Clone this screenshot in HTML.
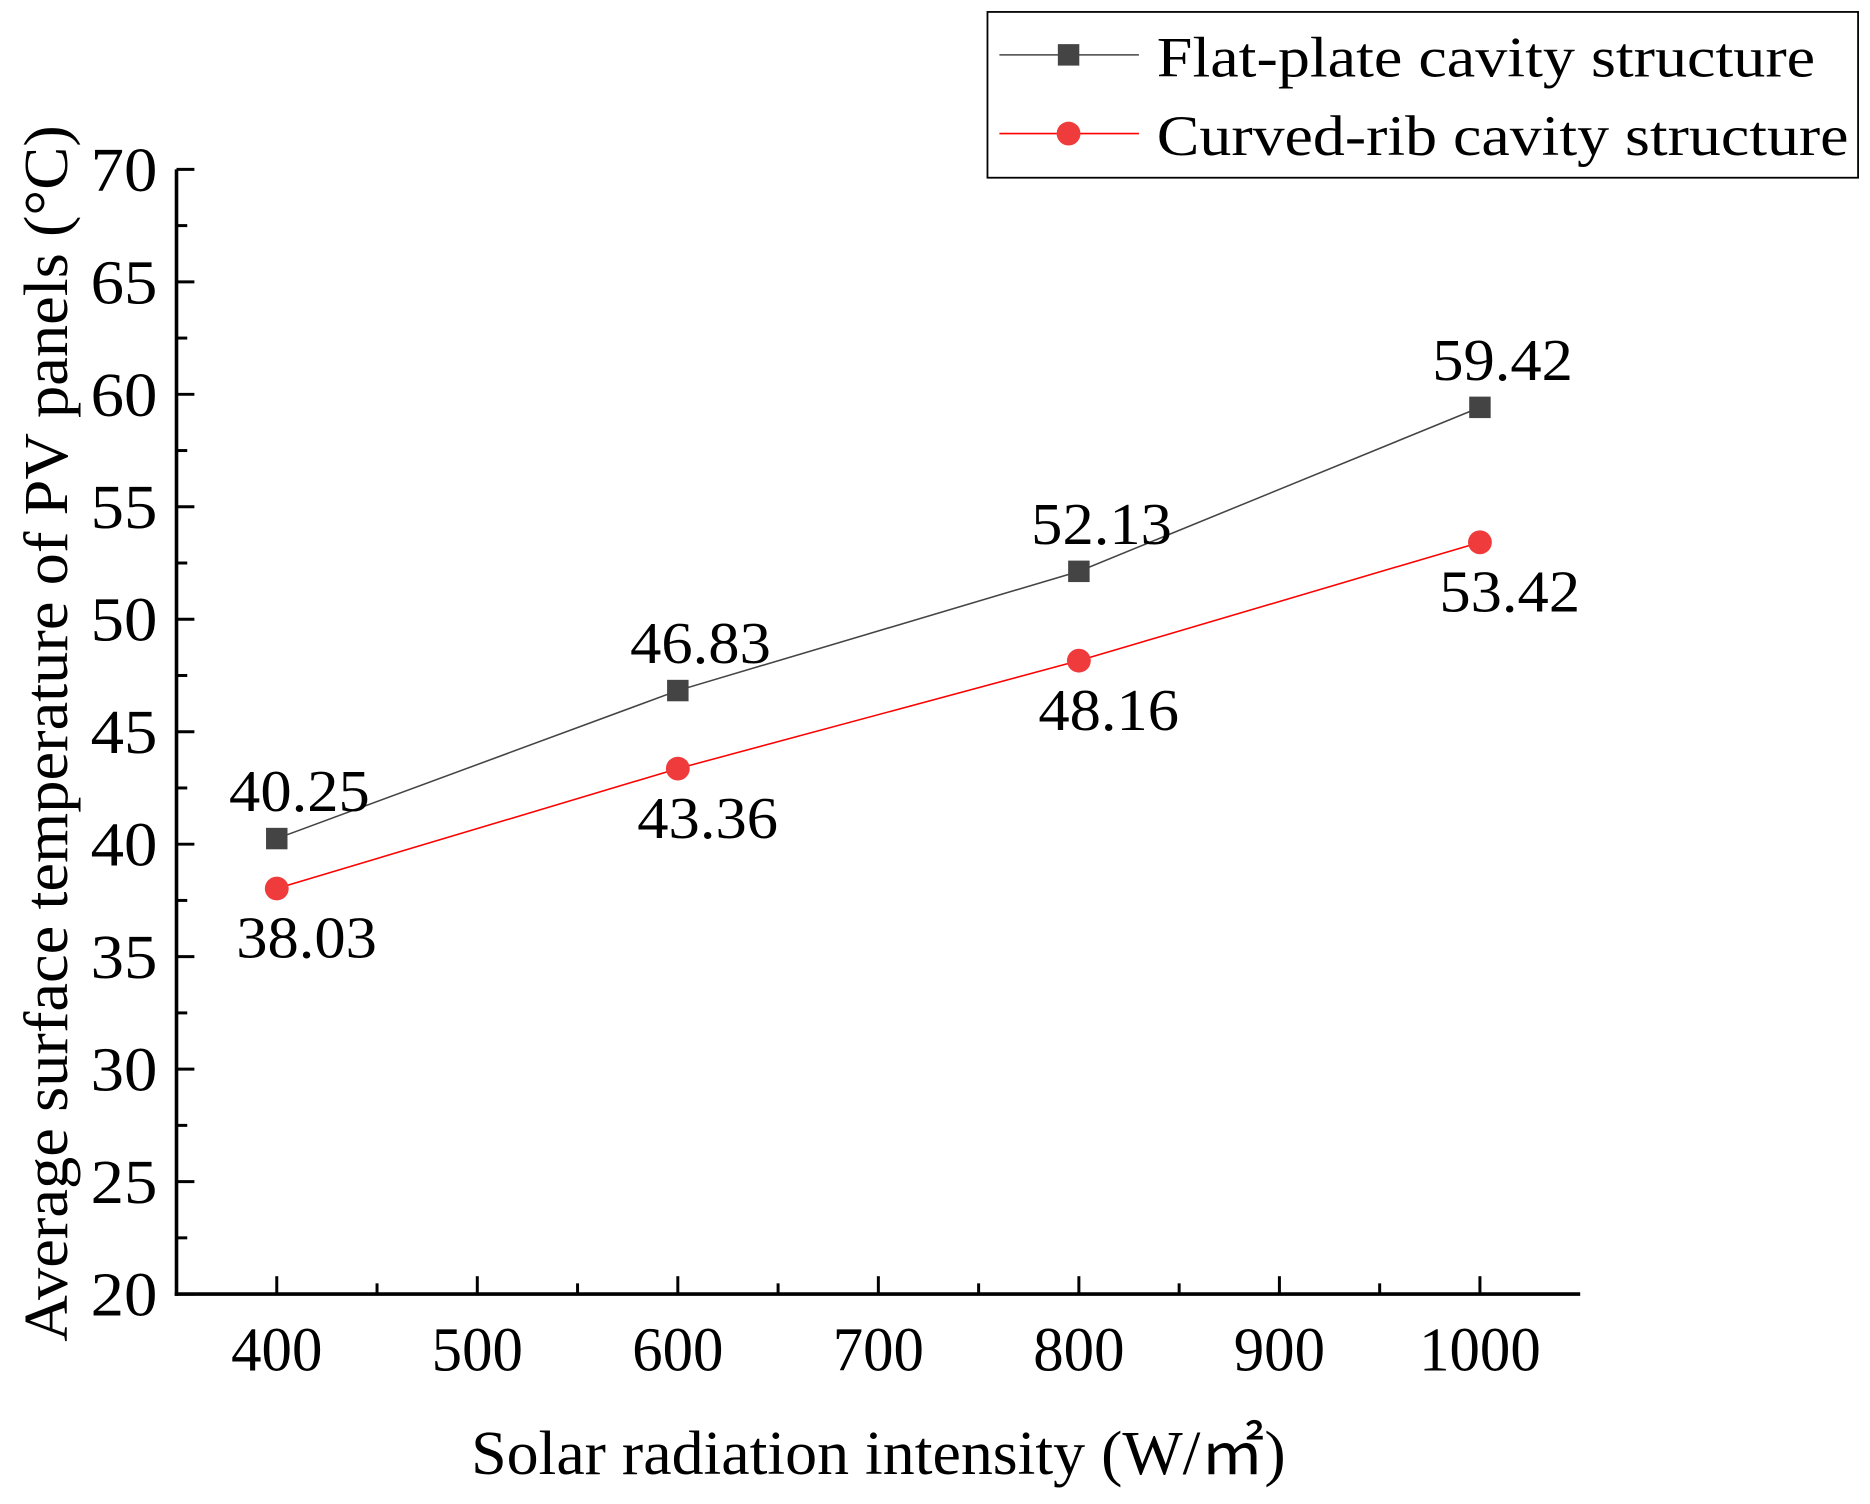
<!DOCTYPE html>
<html><head><meta charset="utf-8"><style>
html,body{margin:0;padding:0;background:#fff}
svg{display:block}
text{font-family:"Liberation Serif",serif;fill:#000}
</style></head><body>
<svg id="chart" width="1870" height="1504" viewBox="0 0 1568 1261" preserveAspectRatio="none" xmlns="http://www.w3.org/2000/svg">
<g id="axes"></g>
<g id="series"></g>
<text x="395" y="1236" font-size="52" textLength="683" lengthAdjust="spacingAndGlyphs">Solar radiation intensity (W/㎡)</text>
<text transform="translate(56,1125) rotate(-90)" font-size="52" textLength="1020" lengthAdjust="spacingAndGlyphs">Average surface temperature of  PV panels (°C)</text>
<g>
<rect x="828" y="10" width="730" height="139" fill="#fff" stroke="#000" stroke-width="1.5"/>
<line x1="838" y1="46" x2="955" y2="46" stroke="#444" stroke-width="1.3"/>
<rect x="887" y="37" width="18" height="18" fill="#444"/>
<text x="970" y="64" font-size="48" textLength="552" lengthAdjust="spacingAndGlyphs">Flat-plate cavity structure</text>
<line x1="838" y1="112" x2="955" y2="112" stroke="#f00" stroke-width="1.3"/>
<circle cx="896" cy="112" r="10" fill="#ef3b3b"/>
<text x="970" y="130" font-size="48" textLength="580" lengthAdjust="spacingAndGlyphs">Curved-rib cavity structure</text>
</g>
</svg>
<script>
const categories=[400,600,800,1000];
const flatValues=[40.25,46.83,52.13,59.42];
const curvedValues=[38.03,43.36,48.16,53.42];
const yTicks=[20,25,30,35,40,45,50,55,60,65,70];
const xTicks=[400,500,600,700,800,900,1000];
const NS="http://www.w3.org/2000/svg";
const X0=148,X1=1325,Y0=1085,Y1=142;
function sx(v){return X0+(v-350)/(1050-350)*(X1-X0);}
function sy(v){return Y0-(v-20)/(70-20)*(Y0-Y1);}
function mk(tag,attrs,parent){const e=document.createElementNS(NS,tag);for(const k in attrs)e.setAttribute(k,attrs[k]);parent.appendChild(e);return e;}
const ax=document.getElementById('axes');
const ya=mk('line',{x1:X0,y1:Y1,x2:X0,y2:Y0+1.5,stroke:'#000','stroke-width':3},ax);


const xa=mk('line',{x1:X0-1.5,y1:Y0,x2:X1,y2:Y0,stroke:'#000','stroke-width':3},ax);


for(let v=20;v<=70;v+=2.5){const major=(v%5===0);mk('line',{x1:X0,y1:sy(v),x2:X0+(major?15:9),y2:sy(v),stroke:'#000','stroke-width':2.5},ax);}
yTicks.forEach(v=>{const t=mk('text',{x:X0-16,y:sy(v)+18,'font-size':52,'text-anchor':'end',textLength:56,lengthAdjust:'spacingAndGlyphs'},ax);t.textContent=v;

});
for(let v=400;v<=1000;v+=50){const major=(v%100===0);mk('line',{x1:sx(v),y1:Y0,x2:sx(v),y2:Y0-(major?15:9),stroke:'#000','stroke-width':2.5},ax);}
xTicks.forEach(v=>{const s=String(v);const t=mk('text',{x:sx(v),y:Y0+64,'font-size':52,'text-anchor':'middle',textLength:s.length*25.5,lengthAdjust:'spacingAndGlyphs'},ax);t.textContent=s;

});
const sg=document.getElementById('series');
function pts(vals){return vals.map((v,i)=>sx(categories[i])+','+sy(v)).join(' ');}
const l1=mk('polyline',{points:pts(flatValues),fill:'none',stroke:'#444','stroke-width':1.3},sg);


const l2=mk('polyline',{points:pts(curvedValues),fill:'none',stroke:'#f00','stroke-width':1.3},sg);


flatValues.forEach((v,i)=>{const x=sx(categories[i]),y=sy(v);
const r=mk('rect',{x:x-9,y:y-9,width:18,height:18,fill:'#444'},sg);


const t=mk('text',{x:x+19,y:y-23,'font-size':50,'text-anchor':'middle',textLength:118,lengthAdjust:'spacingAndGlyphs'},sg);t.textContent=v.toFixed(2);

});
curvedValues.forEach((v,i)=>{const x=sx(categories[i]),y=sy(v);
const c=mk('circle',{cx:x,cy:y,r:10,fill:'#ef3b3b'},sg);


const t=mk('text',{x:x+25,y:y+58,'font-size':50,'text-anchor':'middle',textLength:118,lengthAdjust:'spacingAndGlyphs'},sg);t.textContent=v.toFixed(2);

});
</script>
</body></html>
